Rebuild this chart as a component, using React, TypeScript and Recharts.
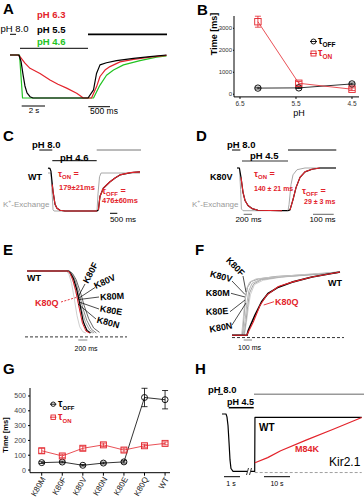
import React from 'react';
import { LineChart, Line, XAxis, YAxis, ErrorBar } from 'recharts';

const RED = '#e3232b';
const GREEN = '#22c322';
const FONT = '"Liberation Sans", Arial, Helvetica, sans-serif';

// ---------- Panel A (time in s, normalized current) ----------
const A_ON_RED_T = [0, 0.7, 0.87, 1.3, 1.74, 2.61, 3.48, 4.17, 4.93, 5.8, 6.23, 6.35];
const A_ON_RED_I = [0, 0, -0.04, -0.19, -0.31, -0.43, -0.58, -0.68, -0.77, -0.89, -0.97, -1.0];
const A_ON_BLK_T = [0, 0.78, 0.96, 1.13, 1.3, 1.48, 1.74, 2.0, 6.35];
const A_ON_BLK_I = [0, 0, -0.15, -0.45, -0.72, -0.88, -0.97, -1.0, -1.0];
const A_ON_GRN_T = [0, 0.83, 0.96, 1.09, 6.35];
const A_ON_GRN_I = [0, 0, -0.5, -1.0, -1.0];
const A_OFF_BLK_T = [0, 0.1, 0.21, 0.27, 0.34, 0.47, 0.67, 1.01, 1.34, 1.67];
const A_OFF_BLK_I = [-1, -1, -0.81, -0.43, -0.23, -0.18, -0.13, -0.08, -0.04, 0];
const A_OFF_RED_T = [0, 0.17, 0.27, 0.34, 0.44, 0.54, 0.74, 1.01, 1.34, 1.67];
const A_OFF_RED_I = [-1, -1, -0.74, -0.5, -0.35, -0.27, -0.16, -0.1, -0.05, -0.01];
const A_OFF_GRN_T = [0, 0.21, 0.34, 0.47, 0.61, 0.81, 1.14, 1.47, 1.67];
const A_OFF_GRN_I = [-1, -1, -0.7, -0.47, -0.35, -0.23, -0.13, -0.05, -0.02];

// ---------- Panel B ----------
const B_PH = [6.18, 5.45, 4.5];
const B_TOFF = [280, 290, 470];
const B_TOFF_ERR = [40, 30, 40];
const B_TON = [3300, 500, 230];
const B_TON_ERR = [250, 80, 60];
const B_XTICKS = [6.5, 5.5, 4.5];
const B_YTICKS = [0, 1000, 2000, 3000];

// ---------- Panel C (WT) ----------
const C_WT_T = [0, 0.14, 0.21, 0.36, 0.5, 0.64, 0.86, 1.21, 3.5, 3.6, 3.71, 3.95, 4.43, 4.79, 5.14, 6.1, 6.57];
const C_WT_I = [0.13, 0.12, 0.05, -0.49, -0.82, -0.93, -0.98, -1.0, -1.0, -0.97, -0.62, -0.4, -0.23, -0.13, -0.05, 0.02, 0.03];
const C_FITON_T = [0.3, 0.36, 0.5, 0.64, 0.86, 1.21, 2.0, 3.5];
const C_FITON_I = [-0.3, -0.49, -0.82, -0.93, -0.98, -1.0, -1.0, -1.0];
const C_FITOFF_T = [3.6, 3.71, 3.95, 4.43, 4.79, 5.14, 5.86, 6.57];
const C_FITOFF_I = [-0.97, -0.62, -0.4, -0.23, -0.13, -0.05, 0.01, 0.03];
const C_KEX_T = [0, 0.21, 0.29, 0.36, 0.43, 3.5, 3.57, 3.68, 3.79, 6.57];
const C_KEX_I = [0, 0, -0.5, -0.97, -1.0, -1.0, -0.55, -0.1, 0, 0];

// ---------- Panel D (K80V) ----------
const D_ON_T = [0, 0.06, 0.1, 0.15, 0.2, 0.275, 0.375, 0.525, 1.125, 1.275];
const D_ON_I = [0, 0, -0.22, -0.57, -0.76, -0.88, -0.95, -0.99, -1.0, -1.0];
const D_ONFIT_T = [0.1, 0.15, 0.2, 0.275, 0.375, 0.525, 1.125];
const D_ONFIT_I = [-0.22, -0.57, -0.76, -0.88, -0.95, -0.99, -1.0];
const D_ONKEX_T = [0, 0.06, 0.09, 0.11, 0.15, 1.125];
const D_ONKEX_I = [0, 0, -0.5, -0.96, -1.0, -1.0];
const D_OFF_T = [0, 0.01, 0.025, 0.04, 0.06, 0.085, 0.12, 0.16, 0.24];
const D_OFF_I = [-1, -0.98, -0.74, -0.46, -0.22, -0.09, -0.03, 0, 0];
const D_OFFFIT_T = [0.01, 0.025, 0.04, 0.06, 0.085, 0.12, 0.16];
const D_OFFFIT_I = [-0.98, -0.74, -0.46, -0.22, -0.09, -0.03, 0];
const D_OFFKEX_T = [0, 0.005, 0.015, 0.025, 0.045, 0.085, 0.24];
const D_OFFKEX_I = [-1, -0.86, -0.39, -0.16, -0.04, 0, 0];

// ---------- Panel E (onset, s) ----------
const E_WT_T = [-0.91, 0.0, 0.05, 0.12, 0.19, 0.27, 0.34, 0.42, 0.5];
const E_WT_I = [0, 0, -0.03, -0.12, -0.29, -0.56, -0.82, -0.96, -1.0];
const E_Q_T = [-0.91, 0.0, 0.04, 0.1, 0.17, 0.25, 0.32, 0.4, 0.48];
const E_Q_I = [0, 0, -0.03, -0.13, -0.31, -0.6, -0.84, -0.97, -1.0];
const E_F_T = [-0.91, -0.04, 0.02, 0.08, 0.14, 0.2, 0.26, 0.33, 0.4];
const E_F_I = [0, 0, -0.05, -0.2, -0.45, -0.72, -0.9, -0.98, -1.0];
const E_V_T = [-0.91, 0, 0.05, 0.12, 0.2, 0.28, 0.36, 0.45, 0.55];
const E_V_I = [0, 0, -0.05, -0.18, -0.42, -0.68, -0.87, -0.97, -1.0];
const E_M_T = [-0.91, 0, 0.06, 0.14, 0.22, 0.3, 0.39, 0.48, 0.58];
const E_M_I = [0, 0, -0.04, -0.16, -0.38, -0.62, -0.83, -0.95, -1.0];
const E_E_T = [-0.91, 0.02, 0.08, 0.16, 0.24, 0.33, 0.42, 0.52, 0.63];
const E_E_I = [0, 0, -0.04, -0.15, -0.35, -0.6, -0.8, -0.94, -1.0];
const E_N_T = [-0.91, 0.03, 0.1, 0.18, 0.27, 0.36, 0.46, 0.57, 0.7];
const E_N_I = [0, 0, -0.04, -0.14, -0.33, -0.56, -0.77, -0.92, -0.99];
const E_ZERO_T = [-0.956, 1.311];
const E_ZERO_I = [-1.063, -1.063];

// ---------- Panel F (recovery, s) ----------
const F_F_T = [-0.15, -0.03, -0.01, 0.01, 0.03, 0.07, 0.15, 0.35, 0.75, 1.18];
const F_F_I = [-1, -1, -0.75, -0.45, -0.27, -0.16, -0.11, -0.08, -0.04, 0];
const F_V_T = [-0.15, -0.02, 0.0, 0.02, 0.045, 0.09, 0.18, 0.4, 0.8, 1.18];
const F_V_I = [-1, -1, -0.7, -0.4, -0.24, -0.15, -0.11, -0.07, -0.04, -0.01];
const F_M_T = [-0.15, -0.01, 0.015, 0.035, 0.06, 0.1, 0.2, 0.42, 0.85, 1.18];
const F_M_I = [-1, -1, -0.75, -0.5, -0.3, -0.18, -0.12, -0.08, -0.04, -0.01];
const F_E_T = [-0.15, 0.0, 0.025, 0.045, 0.07, 0.12, 0.22, 0.45, 0.85, 1.18];
const F_E_I = [-1, -1, -0.78, -0.55, -0.33, -0.19, -0.12, -0.08, -0.04, 0];
const F_N_T = [-0.15, 0.005, 0.03, 0.055, 0.08, 0.13, 0.24, 0.47, 0.9, 1.18];
const F_N_I = [-1, -1, -0.8, -0.56, -0.36, -0.2, -0.13, -0.08, -0.04, -0.01];
const F_WT_T = [-0.15, 0.0375, 0.054, 0.1375, 0.22, 0.3, 0.43, 0.6, 0.85, 1.2];
const F_WT_I = [-1, -1, -0.92, -0.68, -0.47, -0.34, -0.24, -0.16, -0.079, 0];
const F_Q_T = [-0.15, 0.034, 0.116, 0.2, 0.28, 0.43, 0.6, 0.85, 1.2];
const F_Q_I = [-1, -1, -0.79, -0.53, -0.37, -0.23, -0.16, -0.08, 0];
const F_ZERO_T = [-0.15, 1.25];
const F_ZERO_I = [-1.036, -1.036];

// ---------- Panel G ----------
const G_CATS = ['K80M', 'K80F', 'K80V', 'K80N', 'K80E', 'K80Q', 'WT'];
const G_TOFF = [50, 54, 32, 47, 55, 490, 475];
const G_TOFF_ERR = [6, 6, 5, 6, 8, 62, 62];
const G_TON = [130, 95, 147, 170, 135, 164, 180];
const G_TON_ERR = [17, 12, 14, 12, 14, 10, 10];
const G_YTICKS = [0, 100, 200, 300, 400, 500];

// ---------- Panel H (Kir2.1) ----------
const H_ON_T = [0, 0.25, 0.31, 0.375, 0.44, 0.5, 0.56, 0.69, 1.56];
const H_ON_I = [0, 0, -0.05, -0.2, -0.5, -0.8, -0.95, -1.0, -1.0];
const H_WT_T = [-1.42, 0, 0.1, 41.2];
const H_WT_I = [-1, -1, -0.06, -0.06];
const H_M84K_T = [0.1, 5, 10, 20, 30, 41.2];
const H_M84K_I = [-0.85, -0.76, -0.64, -0.45, -0.27, -0.06];
const H_ZERO_T = [0, 41.2];
const H_ZERO_I = [-1.02, -1.02];

type P = { x: number; y: number };
const zip = (t: number[], v: number[]): P[] => t.map((x, i) => ({ x, y: v[i] }));
type Ser = { d: P[]; c: string; w?: number; dash?: string };

function Trace({ xv, xp, yv, yp, ser, pad = 8 }: { xv: [number, number]; xp: [number, number]; yv: [number, number]; yp: [number, number]; ser: Ser[]; pad?: number }) {
  const kx = (xv[1] - xv[0]) / (xp[1] - xp[0]);
  const left = Math.min(xp[0], xp[1]) - pad;
  const right = Math.max(xp[0], xp[1]) + pad;
  const xd: [number, number] = [xv[0] + (left - xp[0]) * kx, xv[0] + (right - xp[0]) * kx];
  const ky = (yv[1] - yv[0]) / (yp[1] - yp[0]);
  const top = Math.min(yp[0], yp[1]) - pad;
  const bottom = Math.max(yp[0], yp[1]) + pad;
  const y1 = yv[0] + (top - yp[0]) * ky;
  const y2 = yv[0] + (bottom - yp[0]) * ky;
  const yd: [number, number] = [Math.min(y1, y2), Math.max(y1, y2)];
  return (
    <div style={{ position: 'absolute', left, top }}>
      <LineChart width={right - left} height={bottom - top} margin={{ top: 0, right: 0, bottom: 0, left: 0 }}>
        <XAxis type="number" dataKey="x" domain={xd} hide allowDataOverflow />
        <YAxis type="number" dataKey="y" domain={yd} hide allowDataOverflow />
        {ser.map((s, i) => (
          <Line key={i} data={s.d} dataKey="y" type="linear" stroke={s.c} strokeWidth={s.w ?? 1.1} strokeDasharray={s.dash} dot={false} activeDot={false} isAnimationActive={false} strokeLinejoin="round" />
        ))}
      </LineChart>
    </div>
  );
}

function T({ x, y, s = 8, c = '#000', b = false, rot = 0, a = 'start', children }: { x: number; y: number; s?: number; c?: string; b?: boolean; rot?: number; a?: 'start' | 'middle' | 'end'; children: React.ReactNode }) {
  const tx = a === 'middle' ? '-50%' : a === 'end' ? '-100%' : '0%';
  return (
    <div style={{ position: 'absolute', left: x, top: y, fontSize: s, lineHeight: `${s}px`, color: c, fontWeight: b ? 'bold' : 'normal', whiteSpace: 'nowrap', transform: `translate(${tx}, -50%) rotate(${rot}deg)` }}>
      {children}
    </div>
  );
}

const Tau = ({ sub, s = 9, ss = 6 }: { sub: string; s?: number; ss?: number }) => (
  <span>
    τ<span style={{ fontSize: ss, position: 'relative', top: s * 0.3 }}>{sub}</span>
  </span>
);

// annotation segments (solution bars, scale bars, leader lines)
const SEGS: [number, number, number, number, string, number, string?][] = [
  [10, 34.3, 16, 34.3, '#000', 1],
  [20, 48.3, 88, 48.3, '#000', 1],
  [88, 34.3, 167, 34.3, '#000', 1.8],
  [21.7, 106, 45, 106, '#000', 1],
  [88.3, 106.7, 110, 106.7, '#000', 1],
  [39.3, 150, 52.3, 150, '#000', 1],
  [52.3, 160.7, 96.7, 160.7, '#000', 1],
  [96.7, 150, 141, 150, '#777', 1],
  [110, 213.3, 117.3, 213.3, '#000', 1],
  [232, 150, 240.3, 150, '#000', 1],
  [242, 161, 288, 161, '#999', 2],
  [288, 150, 336.3, 150, '#000', 1],
  [243.7, 214.3, 252, 214.3, '#666', 1],
  [313, 214.3, 333.7, 214.3, '#666', 1],
  [78, 297, 85, 284, '#000', 0.7],
  [79, 298, 95, 287.5, '#000', 0.7],
  [79, 299.5, 99, 297, '#000', 0.7],
  [79, 302, 99, 309, '#000', 0.7],
  [78, 304, 96, 319, '#000', 0.7],
  [61, 302, 76, 297.5, RED, 0.9, '2 1.5'],
  [78.3, 340, 87.3, 340, '#888', 1],
  [243, 276, 246, 292, '#000', 0.7],
  [232, 281, 245, 294.5, '#000', 0.7],
  [231, 293.3, 245, 297, '#000', 0.7],
  [230, 311.7, 245, 300, '#000', 0.7],
  [232, 325, 246, 303, '#000', 0.7],
  [263.7, 305, 274, 301.7, RED, 0.9],
  [243.7, 340, 252, 340, '#888', 1],
  [218, 394.3, 223, 394.3, '#000', 1],
  [254, 394.3, 364, 394.3, '#999', 1.5],
  [228.7, 407.7, 253.7, 407.7, '#000', 1.5],
  [224, 476.7, 240, 476.7, '#000', 1],
  [264, 476.7, 290, 476.7, '#000', 1],
  [246.5, 475, 248.5, 468, '#000', 0.8],
  [249.5, 475, 251.5, 468, '#000', 0.8],
];

const circleDot = (color: string, r: number) => (p: any) => (
  <circle key={`c${p.index}`} cx={p.cx} cy={p.cy} r={r} fill="none" stroke={color} strokeWidth={0.9} />
);
const squareDot = (color: string, h: number) => (p: any) => (
  <rect key={`s${p.index}`} x={p.cx - h} y={p.cy - h} width={2 * h} height={2 * h} fill="none" stroke={color} strokeWidth={0.9} />
);

function LegendSym({ x, y, shape, color, size }: { x: number; y: number; shape: 'c' | 's'; color: string; size: number }) {
  const w = size * 2 + 4;
  return (
    <svg style={{ position: 'absolute', left: x - w / 2, top: y - w / 2 }} width={w} height={w}>
      {shape === 'c' ? <circle cx={w / 2} cy={w / 2} r={size} fill="none" stroke={color} strokeWidth={0.9} /> : <rect x={w / 2 - size} y={w / 2 - size} width={size * 2} height={size * 2} fill="none" stroke={color} strokeWidth={0.9} />}
      <line x1={w / 2 - size - 1} x2={w / 2 + size + 1} y1={w / 2} y2={w / 2} stroke={color} strokeWidth={0.9} />
    </svg>
  );
}

const GTick = (p: any) => {
  const { x, y, payload } = p;
  return (
    <text x={x + 2} y={y} transform={`rotate(-60 ${x + 2} ${y})`} textAnchor="end" dominantBaseline="central" fontSize={8} fill="#222" fontFamily={FONT}>
      {G_CATS[payload.value]}
    </text>
  );
};

export default function App() {
  const bRows = B_PH.map((ph, i) => ({ ph, off: B_TOFF[i], offE: B_TOFF_ERR[i], on: B_TON[i], onE: B_TON_ERR[i] }));
  const gRows = G_CATS.map((_, i) => ({ i, off: G_TOFF[i], offE: G_TOFF_ERR[i], on: G_TON[i], onE: G_TON_ERR[i] }));
  const G_IDX = G_CATS.map((_, i) => i);

  return (
    <div style={{ position: 'absolute', left: 0, top: 0, width: 364, height: 500, background: '#fff', overflow: 'hidden', fontFamily: FONT }}>
      {/* Panel A */}
      <Trace xv={[0, 6.35]} xp={[10, 83]} yv={[0, -1]} yp={[55, 98]} ser={[
        { d: zip(A_ON_GRN_T, A_ON_GRN_I), c: GREEN, w: 1.2 },
        { d: zip(A_ON_RED_T, A_ON_RED_I), c: RED, w: 1.2 },
        { d: zip(A_ON_BLK_T, A_ON_BLK_I), c: '#000', w: 1.2 },
      ]} />
      <Trace xv={[0, 1.67]} xp={[83, 166.5]} yv={[0, -1]} yp={[55, 98]} ser={[
        { d: zip(A_OFF_GRN_T, A_OFF_GRN_I), c: GREEN, w: 1.2 },
        { d: zip(A_OFF_RED_T, A_OFF_RED_I), c: RED, w: 1.2 },
        { d: zip(A_OFF_BLK_T, A_OFF_BLK_I), c: '#000', w: 1.2 },
      ]} />

      {/* Panel B */}
      <div style={{ position: 'absolute', left: 182, top: 0 }}>
        <LineChart width={182} height={125} data={bRows} margin={{ top: 16, right: 5, bottom: 8.1, left: 31 }}>
          <XAxis type="number" dataKey="ph" domain={[4.375, 6.607]} reversed allowDataOverflow ticks={B_XTICKS} interval={0} tickFormatter={(v: number) => v.toFixed(1)} tick={{ fontSize: 6.5, fill: '#333' }} tickSize={2} tickLine={{ stroke: '#000' }} axisLine={{ stroke: '#000' }} height={20} />
          <YAxis type="number" domain={[-120, 3560]} allowDataOverflow ticks={B_YTICKS} interval={0} width={21} tick={{ fontSize: 6, fill: '#333' }} tickSize={1} tickMargin={1} tickLine={{ stroke: '#000' }} axisLine={{ stroke: '#000' }} />
          <Line dataKey="off" stroke="#000" strokeWidth={0.8} dot={circleDot('#000', 3.2)} activeDot={false} isAnimationActive={false}>
            <ErrorBar dataKey="offE" width={3} stroke="#000" strokeWidth={0.8} />
          </Line>
          <Line dataKey="on" stroke={RED} strokeWidth={0.8} dot={squareDot(RED, 3.2)} activeDot={false} isAnimationActive={false}>
            <ErrorBar dataKey="onE" width={3} stroke={RED} strokeWidth={0.8} />
          </Line>
        </LineChart>
      </div>

      {/* Panel C */}
      <Trace xv={[0, 6.57]} xp={[48, 140]} yv={[0, -1]} yp={[173, 211]} ser={[
        { d: zip(C_KEX_T, C_KEX_I), c: '#a8a8a8', w: 1 },
        { d: zip(C_WT_T, C_WT_I), c: '#000', w: 1.2 },
        { d: zip(C_FITON_T, C_FITON_I), c: RED, w: 1.1 },
        { d: zip(C_FITOFF_T, C_FITOFF_I), c: RED, w: 1.1 },
      ]} />

      {/* Panel D */}
      <Trace xv={[0, 1.275]} xp={[237, 288]} yv={[0, -1]} yp={[168.3, 211]} ser={[
        { d: zip(D_ONKEX_T, D_ONKEX_I), c: '#a8a8a8', w: 1 },
        { d: zip(D_ON_T, D_ON_I), c: '#000', w: 1.2 },
        { d: zip(D_ONFIT_T, D_ONFIT_I), c: RED, w: 1.1 },
      ]} />
      <Trace xv={[0, 0.24]} xp={[288, 336]} yv={[0, -1]} yp={[168.3, 211]} ser={[
        { d: zip(D_OFFKEX_T, D_OFFKEX_I), c: '#a8a8a8', w: 1 },
        { d: zip(D_OFF_T, D_OFF_I), c: '#000', w: 1.2 },
        { d: zip(D_OFFFIT_T, D_OFFFIT_I), c: RED, w: 1.1 },
      ]} />

      {/* Panel E */}
      <Trace xv={[-0.956, 1.311]} xp={[25, 127]} yv={[0, -1]} yp={[271, 333]} ser={[
        { d: zip(E_ZERO_T, E_ZERO_I), c: '#000', w: 0.8, dash: '3 2' },
        { d: zip(E_N_T, E_N_I), c: '#555', w: 0.9 },
        { d: zip(E_E_T, E_E_I), c: '#777', w: 0.9 },
        { d: zip(E_M_T, E_M_I), c: '#999', w: 0.9 },
        { d: zip(E_V_T, E_V_I), c: '#b4b4b4', w: 0.9 },
        { d: zip(E_F_T, E_F_I), c: '#cacaca', w: 0.9 },
        { d: zip(E_WT_T, E_WT_I), c: '#000', w: 1.2 },
        { d: zip(E_Q_T, E_Q_I), c: RED, w: 1 },
      ]} />

      {/* Panel F */}
      <Trace xv={[-0.15, 1.25]} xp={[232, 344]} yv={[0, -1]} yp={[271.7, 335]} ser={[
        { d: zip(F_ZERO_T, F_ZERO_I), c: '#000', w: 0.8, dash: '3 2' },
        { d: zip(F_N_T, F_N_I), c: '#cfcfcf', w: 1 },
        { d: zip(F_E_T, F_E_I), c: '#a6a6a6', w: 1 },
        { d: zip(F_M_T, F_M_I), c: '#b8b8b8', w: 1 },
        { d: zip(F_V_T, F_V_I), c: '#9a9a9a', w: 1 },
        { d: zip(F_F_T, F_F_I), c: '#c4c4c4', w: 1 },
        { d: zip(F_WT_T, F_WT_I), c: '#000', w: 1.6 },
        { d: zip(F_Q_T, F_Q_I), c: RED, w: 1.1 },
      ]} />

      {/* Panel G */}
      <div style={{ position: 'absolute', left: 0, top: 375 }}>
        <LineChart width={182} height={125} data={gRows} margin={{ top: 13, right: 12, bottom: 0, left: 10 }}>
          <XAxis type="number" dataKey="i" domain={[-0.57, 6.24]} allowDataOverflow ticks={G_IDX} interval={0} tick={<GTick />} tickSize={3} tickLine={{ stroke: '#000' }} axisLine={{ stroke: '#000' }} height={27.3} />
          <YAxis type="number" domain={[-18, 554]} allowDataOverflow ticks={G_YTICKS} interval={0} width={20} tick={{ fontSize: 7, fill: '#444' }} tickSize={2} tickLine={{ stroke: '#000' }} axisLine={{ stroke: '#000' }} />
          <Line dataKey="off" stroke="#000" strokeWidth={0.8} dot={circleDot('#000', 3)} activeDot={false} isAnimationActive={false}>
            <ErrorBar dataKey="offE" width={3} stroke="#000" strokeWidth={0.8} />
          </Line>
          <Line dataKey="on" stroke={RED} strokeWidth={0.8} dot={squareDot(RED, 3)} activeDot={false} isAnimationActive={false}>
            <ErrorBar dataKey="onE" width={3} stroke={RED} strokeWidth={0.8} />
          </Line>
        </LineChart>
      </div>

      {/* Panel H */}
      <Trace xv={[0, 1.56]} xp={[222, 247]} yv={[0, -1]} yp={[414.3, 471.7]} ser={[
        { d: zip(H_ON_T, H_ON_I), c: '#000', w: 1.2 },
      ]} />
      <Trace xv={[-1.42, 41.3]} xp={[251, 362]} yv={[0, -1]} yp={[414.3, 471.7]} ser={[
        { d: zip(H_ZERO_T, H_ZERO_I), c: '#888', w: 0.8, dash: '3 2' },
        { d: zip(H_WT_T, H_WT_I), c: '#000', w: 1.2 },
        { d: zip(H_M84K_T, H_M84K_I), c: RED, w: 1.2 },
      ]} />

      {/* annotation segments */}
      <svg style={{ position: 'absolute', left: 0, top: 0 }} width={364} height={500}>
        {SEGS.map((s, i) => (
          <line key={i} x1={s[0]} y1={s[1]} x2={s[2]} y2={s[3]} stroke={s[4]} strokeWidth={s[5]} strokeDasharray={s[6]} />
        ))}
      </svg>

      {/* Panel letters */}
      <T x={3} y={8} s={15} b>A</T>
      <T x={197} y={9} s={15} b>B</T>
      <T x={3} y={135} s={15} b>C</T>
      <T x={196} y={135} s={15} b>D</T>
      <T x={3} y={248.5} s={15} b>E</T>
      <T x={195} y={248.5} s={15} b>F</T>
      <T x={3} y={368} s={15} b>G</T>
      <T x={195} y={368} s={15} b>H</T>

      {/* A texts */}
      <T x={37} y={15} s={9.5} b c={RED}>pH 6.3</T>
      <T x={37} y={30} s={9.5} b>pH 5.5</T>
      <T x={37} y={42} s={9.5} b c={GREEN}>pH 4.6</T>
      <T x={0.5} y={29} s={9.5}>pH 8.0</T>
      <T x={34} y={111} s={8} a="middle">2 s</T>
      <T x={104} y={111} s={8.5} a="middle">500 ms</T>

      {/* B texts */}
      <T x={213.5} y={34} s={9} b a="middle" rot={-90}>Time [ms]</T>
      <T x={299} y={113} s={9} a="middle">pH</T>
      <LegendSym x={313.7} y={41.7} shape="c" color="#000" size={2.5} />
      <T x={318} y={41} s={10} b><Tau sub="OFF" s={10} ss={6.5} /></T>
      <LegendSym x={313.7} y={53.3} shape="s" color={RED} size={2.5} />
      <T x={318} y={53} s={10} b c={RED}><Tau sub="ON" s={10} ss={6.5} /></T>

      {/* C texts */}
      <T x={32} y={145} s={9.5} b>pH 8.0</T>
      <T x={60} y={157.5} s={9.5} b>pH 4.6</T>
      <T x={28} y={176.7} s={9} b>WT</T>
      <T x={3} y={203.3} s={8} c="#999">K<sup style={{ fontSize: 5 }}>+</sup>-Exchange</T>
      <T x={58} y={174.5} s={9} b c={RED}><Tau sub="ON" s={9} ss={6} /> =</T>
      <T x={59} y={187.5} s={7.5} b c={RED}>179±21ms</T>
      <T x={102} y={191.5} s={9} b c={RED}><Tau sub="OFF" s={9} ss={6} /> =</T>
      <T x={102} y={201} s={7.5} b c={RED}>476±60ms</T>
      <T x={123} y={220} s={8} a="middle">500 ms</T>

      {/* D texts */}
      <T x={227} y={145} s={9.5} b>pH 8.0</T>
      <T x={250} y={156} s={9.5} b>pH 4.5</T>
      <T x={210} y={177} s={9} b>K80V</T>
      <T x={192} y={203.3} s={8} c="#999">K<sup style={{ fontSize: 5 }}>+</sup>-Exchange</T>
      <T x={254} y={174.5} s={9} b c={RED}><Tau sub="ON" s={9} ss={6} /> =</T>
      <T x={254} y={187.5} s={7} b c={RED}>140 ± 21 ms</T>
      <T x={302} y={191.5} s={9} b c={RED}><Tau sub="OFF" s={9} ss={6} /> =</T>
      <T x={304} y={201} s={7} b c={RED}>29 ± 3 ms</T>
      <T x={248.5} y={220} s={8} a="middle">200 ms</T>
      <T x={322.5} y={220} s={8} a="middle">100 ms</T>

      {/* E texts */}
      <T x={27} y={278.3} s={9} b>WT</T>
      <T x={35} y={303} s={9} b c={RED}>K80Q</T>
      <T x={90.5} y={273} s={9} b a="middle" rot={-62}>K80F</T>
      <T x={105} y={282} s={9} b a="middle" rot={-25}>K80V</T>
      <T x={112} y={296.5} s={9} b a="middle" rot={-3}>K80M</T>
      <T x={111} y={310.5} s={9} b a="middle" rot={10}>K80E</T>
      <T x={108} y={322.5} s={9} b a="middle" rot={15}>K80N</T>
      <T x={86} y={347.5} s={7} a="middle">200 ms</T>

      {/* F texts */}
      <T x={235.3} y={266.7} s={9} b a="middle" rot={45}>K80F</T>
      <T x={221} y={277} s={9} b a="middle" rot={15}>K80V</T>
      <T x={217.7} y={293.3} s={9} b a="middle">K80M</T>
      <T x={217.3} y={311.7} s={9} b a="middle" rot={-3}>K80E</T>
      <T x={221} y={327.5} s={9} b a="middle" rot={-10}>K80N</T>
      <T x={328} y={283} s={9} b>WT</T>
      <T x={275} y={302} s={9} b c={RED}>K80Q</T>
      <T x={249.5} y={346.7} s={7} a="middle">100 ms</T>

      {/* G texts */}
      <T x={5.5} y={435} s={7.5} b a="middle" rot={-90}>Time [ms]</T>
      <LegendSym x={53.3} y={404} shape="c" color="#000" size={2.2} />
      <T x={58} y={404} s={10} b><Tau sub="OFF" s={10} ss={6} /></T>
      <LegendSym x={53.3} y={417.3} shape="s" color={RED} size={2.2} />
      <T x={58} y={417} s={10} b c={RED}><Tau sub="ON" s={10} ss={6} /></T>

      {/* H texts */}
      <T x={208} y={390} s={9.5} b>pH 8.0</T>
      <T x={227} y={401.7} s={9} b>pH 4.5</T>
      <T x={259} y={428.3} s={10} b>WT</T>
      <T x={295} y={449} s={9} b c={RED}>M84K</T>
      <T x={329} y={462} s={12}>Kir2.1</T>
      <T x={231} y={482.5} s={7} a="middle">1 s</T>
      <T x={277} y={482.5} s={7} a="middle">10 s</T>
    </div>
  );
}
